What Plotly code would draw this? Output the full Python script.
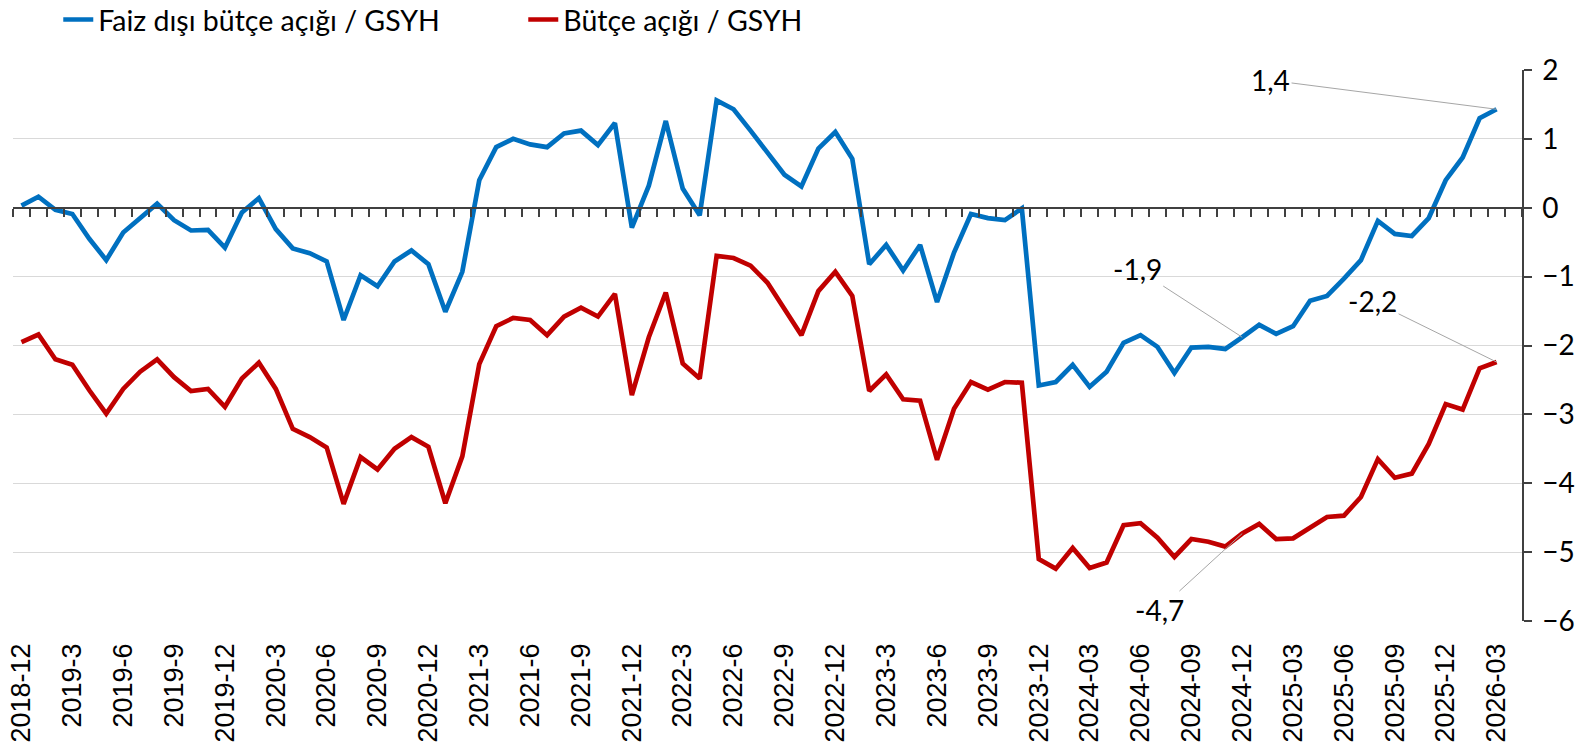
import plotly.graph_objects as go

# ---- data ----
tick_labels = ["2018-12", "2019-3", "2019-6", "2019-9", "2019-12", "2020-3", "2020-6", "2020-9",
               "2020-12", "2021-3", "2021-6", "2021-9", "2021-12", "2022-3", "2022-6", "2022-9",
               "2022-12", "2023-3", "2023-6", "2023-9", "2023-12", "2024-03", "2024-06", "2024-09",
               "2024-12", "2025-03", "2025-06", "2025-09", "2025-12", "2026-03"]

faiz_disi = [0.03, 0.16, -0.03, -0.09, -0.45, -0.76, -0.36, -0.15, 0.06, -0.18,
             -0.33, -0.32, -0.58, -0.07, 0.14, -0.31, -0.59, -0.66, -0.78, -1.63,
             -0.98, -1.14, -0.78, -0.62, -0.82, -1.51, -0.93, 0.40, 0.88, 1.00,
             0.92, 0.88, 1.08, 1.12, 0.91, 1.23, -0.29, 0.32, 1.26, 0.28,
             -0.11, 1.56, 1.43, 1.12, 0.81, 0.48, 0.31, 0.86, 1.10, 0.71,
             -0.82, -0.54, -0.91, -0.54, -1.37, -0.65, -0.09, -0.15, -0.18, -0.01,
             -2.58, -2.53, -2.28, -2.60, -2.38, -1.96, -1.85, -2.02, -2.40, -2.03,
             -2.02, -2.05, -1.88, -1.70, -1.83, -1.72, -1.35, -1.28, -1.03, -0.76,
             -0.19, -0.38, -0.41, -0.15, 0.40, 0.73, 1.30, 1.43]

butce = [-1.95, -1.84, -2.20, -2.28, -2.65, -2.99, -2.63, -2.38, -2.20, -2.46,
         -2.66, -2.63, -2.89, -2.48, -2.25, -2.63, -3.21, -3.33, -3.48, -4.30,
         -3.62, -3.80, -3.50, -3.33, -3.47, -4.29, -3.61, -2.27, -1.72, -1.60,
         -1.63, -1.85, -1.58, -1.45, -1.58, -1.25, -2.72, -1.88, -1.23, -2.26,
         -2.48, -0.70, -0.73, -0.84, -1.09, -1.46, -1.85, -1.21, -0.93, -1.28,
         -2.66, -2.42, -2.78, -2.80, -3.66, -2.92, -2.53, -2.64, -2.53, -2.54,
         -5.10, -5.24, -4.94, -5.23, -5.15, -4.61, -4.58, -4.79, -5.07, -4.81,
         -4.85, -4.92, -4.73, -4.59, -4.81, -4.80, -4.65, -4.49, -4.47, -4.20,
         -3.65, -3.92, -3.86, -3.43, -2.85, -2.93, -2.33, -2.24]

series_names = ["Faiz dışı bütçe açığı / GSYH", "Bütçe açığı / GSYH"]
colors = ["#0070C0", "#C00000"]

n = len(faiz_disi)
month_idx = list(range(n))
tick_idx = list(range(0, n, 3))

FONT = "Lato"

fig = go.Figure()
for vals, name, col in zip([faiz_disi, butce], series_names, colors):
    fig.add_trace(go.Scatter(x=month_idx, y=vals, mode="lines", name=name,
                             line=dict(color=col, width=4.7), hoverinfo="skip"))

# invisible trace for the zero-crossing axis carrying the monthly tick marks
fig.add_trace(go.Scatter(x=[0], y=[None], xaxis="x2", showlegend=False, hoverinfo="skip"))

def fmt(v):
    return f"{v:.1f}".replace(".", ",")

annots = [
    (n - 1, faiz_disi[-1], -226, -29),
    (72, faiz_disi[72], -105, -68),
    (n - 1, butce[-1], -124, -61),
    (72, butce[72], -83, 76),
]
for xi, yv, ax, ay in annots:
    fig.add_annotation(x=xi, y=yv, text=fmt(yv), showarrow=True, arrowhead=0,
                       arrowwidth=1, arrowcolor="#A6A6A6", ax=ax, ay=ay, standoff=0,
                       font=dict(family=FONT, size=28, color="#000000"))

xr = [-0.5, n + 0.5]
fig.update_layout(
    width=1589, height=752,
    margin=dict(l=13, r=67, t=70, b=131, autoexpand=False),
    plot_bgcolor="white", paper_bgcolor="white",
    showlegend=True,
    legend=dict(orientation="h", x=0.030, xanchor="left", y=1.0908, yanchor="middle",
                font=dict(family=FONT, size=28.5, color="#000000"),
                entrywidth=420, entrywidthmode="pixels",
                bgcolor="rgba(0,0,0,0)"),
    xaxis=dict(range=xr, tickmode="array", tickvals=tick_idx, ticktext=tick_labels,
               tickangle=-90, ticks="", showgrid=False, zeroline=False, showline=False,
               tickfont=dict(family="Liberation Sans", size=27, color="#000000"),
               ticklabelstandoff=16),
    xaxis2=dict(range=xr, overlaying="x", anchor="free", position=0.75, side="bottom",
                tickmode="array", tickvals=[i - 0.5 for i in range(n + 2)],
                ticks="outside", ticklen=8, tickwidth=1.5, tickcolor="#404040",
                showticklabels=False, showgrid=False, zeroline=False,
                showline=True, linecolor="#404040", linewidth=1.5),
    yaxis=dict(range=[-6, 2], side="right", dtick=1, tick0=0,
               showgrid=True, gridcolor="#D9D9D9", gridwidth=1.3,
               zeroline=False, showline=True, linecolor="#404040", linewidth=1.5,
               ticks="outside", ticklen=8, tickwidth=1.5, tickcolor="#404040",
               tickfont=dict(family=FONT, size=28, color="#000000"),
               ticklabelstandoff=5),
)

fig.write_html("out.html", config={"displayModeBar": False},
               post_script="document.body.style.margin='0';document.body.style.padding='0';")
